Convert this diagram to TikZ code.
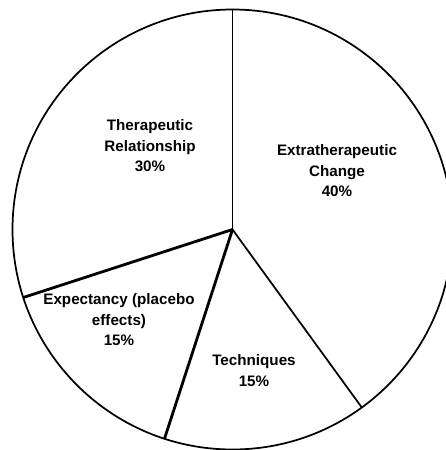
\documentclass[tikz,border=0pt]{standalone}
\usepackage{fontspec}
\setmainfont{Liberation Sans}
\usepackage{tikz}

\tikzset{
  slice/.style={line width=1.3pt},
  slicebold/.style={line width=2.1pt},
  pielabel/.style={inner sep=0.75pt, align=center, font=\fontsize{11.4}{15.4}\selectfont\bfseries}
}

\begin{document}
\begin{tikzpicture}[x=0.75pt,y=0.75pt,yscale=-1,xscale=1]
%set diagram frame to the full 446 x 450 area
\useasboundingbox (0,0) rectangle (446,450);

%Centre and rim points
\coordinate (c) at (232.5,229.5);
\coordinate (rimtop) at (232.5,9.5);
\coordinate (rimextra) at (361.8,407.5);
\coordinate (rimtech) at (164.5,438.7);
\coordinate (rimexpect) at (23.3,297.5);

%Shape: Circle
\draw [line width=1.3pt] (c) circle [radius=220];

%Straight Lines
\draw [slice] (c) -- (rimtop);
%Straight Lines
\draw [slice] (c) -- (rimextra);
%Straight Lines
\draw [slicebold] (c) -- (rimtech);
%Straight Lines
\draw [slicebold] (c) -- (rimexpect);

% Text Node
\draw (150,146) node [pielabel] (relation) {Therapeutic\\Relationship\\30\%};
% Text Node
\draw (337,171) node [pielabel] (extra) {Extratherapeutic\\Change\\40\%};
% Text Node
\draw (119,320) node [pielabel] (expect) {Expectancy (placebo\\effects)\\15\%};
% Text Node
\draw (254,370.5) node [pielabel] (tech) {Techniques\\15\%};

\end{tikzpicture}
\end{document}
